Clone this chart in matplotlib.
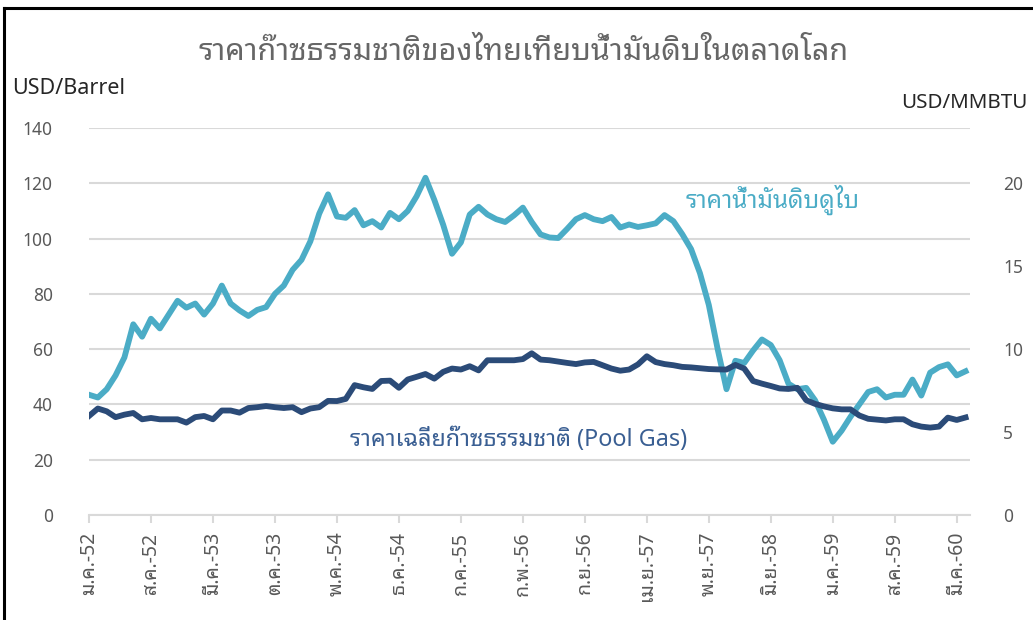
import matplotlib
matplotlib.use("Agg")
import matplotlib.pyplot as plt
import numpy as np
from matplotlib.lines import Line2D

plt.rcParams["font.family"] = ["Noto Sans", "Noto Sans Thai Looped", "DejaVu Sans"]

# monthly, Jan 2009 (ม.ค.-52) .. Apr 2017
oil_dubai = [
    43.5, 42.5, 45.5, 50.5, 57.0, 69.0, 64.5, 71.0, 67.5, 72.5, 77.5, 75.0,
    76.5, 72.5, 76.5, 83.0, 76.5, 74.0, 72.0, 74.2, 75.2, 80.0, 83.0, 88.7,
    92.3, 99.0, 109.0, 116.0, 108.0, 107.5, 110.3, 104.8, 106.3, 104.0, 109.3, 107.0,
    110.0, 115.3, 122.0, 114.0, 105.0, 94.5, 98.6, 108.7, 111.5, 108.7, 107.0, 106.0,
    108.4, 111.2, 106.0, 101.5, 100.4, 100.2, 103.5, 107.0, 108.5, 107.0, 106.3, 107.8,
    104.0, 105.1, 104.2, 104.8, 105.5, 108.5, 106.3, 101.6, 96.2, 87.5, 76.0, 60.0,
    45.5, 55.8, 55.0, 59.5, 63.5, 61.5, 56.0, 47.5, 45.5, 46.0, 41.5, 34.5,
    26.5, 30.5, 35.5, 40.0, 44.5, 45.5, 42.5, 43.5, 43.5, 49.0, 43.2, 51.5,
    53.5, 54.5, 50.5, 52.0,
]
pool_gas = [
    5.97, 6.42, 6.25, 5.90, 6.05, 6.15, 5.77, 5.85, 5.77, 5.77, 5.77, 5.57,
    5.90, 5.97, 5.77, 6.30, 6.30, 6.17, 6.45, 6.50, 6.57, 6.50, 6.45, 6.50,
    6.20, 6.42, 6.50, 6.88, 6.87, 7.00, 7.83, 7.70, 7.60, 8.08, 8.10, 7.67,
    8.17, 8.33, 8.50, 8.22, 8.63, 8.83, 8.77, 8.97, 8.72, 9.33, 9.33, 9.33,
    9.33, 9.40, 9.75, 9.37, 9.33, 9.25, 9.17, 9.10, 9.20, 9.23, 9.03, 8.83,
    8.70, 8.77, 9.08, 9.57, 9.22, 9.10, 9.03, 8.93, 8.90, 8.85, 8.80, 8.78,
    8.77, 9.05, 8.83, 8.08, 7.92, 7.78, 7.63, 7.60, 7.67, 6.92, 6.70, 6.55,
    6.43, 6.37, 6.37, 6.00, 5.80, 5.75, 5.70, 5.77, 5.77, 5.47, 5.33, 5.27,
    5.33, 5.87, 5.73, 5.88,
]
tick_labels = [
    "ม.ค.-52", "ส.ค.-52", "มี.ค.-53", "ต.ค.-53", "พ.ค.-54", "ธ.ค.-54", "ก.ค.-55",
    "ก.พ.-56", "ก.ย.-56", "เม.ย.-57", "พ.ย.-57", "มิ.ย.-58", "ม.ค.-59", "ส.ค.-59",
    "มี.ค.-60",
]
tick_step = 7

title = "ราคาก๊าซธรรมชาติของไทยเทียบน้ำมันดิบในตลาดโลก"
oil_label = "ราคาน้ำมันดิบดูไบ"
gas_label = "ราคาเฉลี่ยก๊าซธรรมชาติ (Pool Gas)"

OIL = "#4bacc6"
GAS = "#2b4b78"
GRID = "#d9d9d9"
TXT = "#595959"

x = np.arange(len(oil_dubai))

fig = plt.figure(figsize=(10.33, 6.2), dpi=100)
ax = fig.add_axes([89 / 1033, 1 - 515 / 620, (970 - 89) / 1033, (515 - 128) / 620])
ax2 = ax.twinx()

ax.plot(x, oil_dubai, color=OIL, lw=4.2, solid_joinstyle="round", zorder=3)
ax2.plot(x, pool_gas, color=GAS, lw=4.2, solid_joinstyle="round", zorder=3)

ax.set_xlim(0, len(x) - 0.5)
ax.set_ylim(0, 140)
ax2.set_ylim(0, 140 / 6)
ax.set_yticks(np.arange(0, 141, 20))
ax2.set_yticks(np.arange(0, 21, 5))
ax.grid(axis="y", color=GRID, lw=1.5)
ax.set_axisbelow(True)

ax.set_xticks(np.arange(0, len(x), tick_step))
ax.set_xticklabels(tick_labels, rotation=90)

for a in (ax, ax2):
    for side in ("top", "left", "right"):
        a.spines[side].set_visible(False)
    a.spines["bottom"].set_color(GRID)
    a.spines["bottom"].set_linewidth(1.5)
ax2.spines["bottom"].set_visible(False)

ax.tick_params(axis="x", colors=GRID, length=6, width=1.5, labelcolor=TXT, labelsize=14, pad=6)
ax.tick_params(axis="y", length=0, labelcolor=TXT, labelsize=12.5, pad=26)
ax2.tick_params(axis="y", length=0, labelcolor=TXT, labelsize=12.5, pad=24)

fig.text(524 / 1033, 1 - 52 / 620, title, ha="center", va="center", fontsize=22,
         color="#666666", fontweight="light")
fig.text(12 / 1033, 1 - 88 / 620, "USD/Barrel", ha="left", va="center", fontsize=15.5, color="#262626")
fig.text(901 / 1033, 1 - 103 / 620, "USD/MMBTU", ha="left", va="center", fontsize=14.8, color="#262626")

ax.text(686 / 1033, 1 - 200 / 620, oil_label, transform=fig.transFigure,
        ha="left", va="center", fontsize=17.5, color=OIL)
ax.text(350 / 1033, 1 - 440 / 620, gas_label, transform=fig.transFigure,
        ha="left", va="center", fontsize=16.8, color="#3a5f93")

# screenshot frame on left and top
fig.add_artist(Line2D([4 / 1033, 4 / 1033], [0, 1 - 8 / 620], color="black", lw=2.2))
fig.add_artist(Line2D([4 / 1033, 1], [1 - 8 / 620, 1 - 8 / 620], color="black", lw=2.2))

fig.savefig("out.png", dpi=100)
